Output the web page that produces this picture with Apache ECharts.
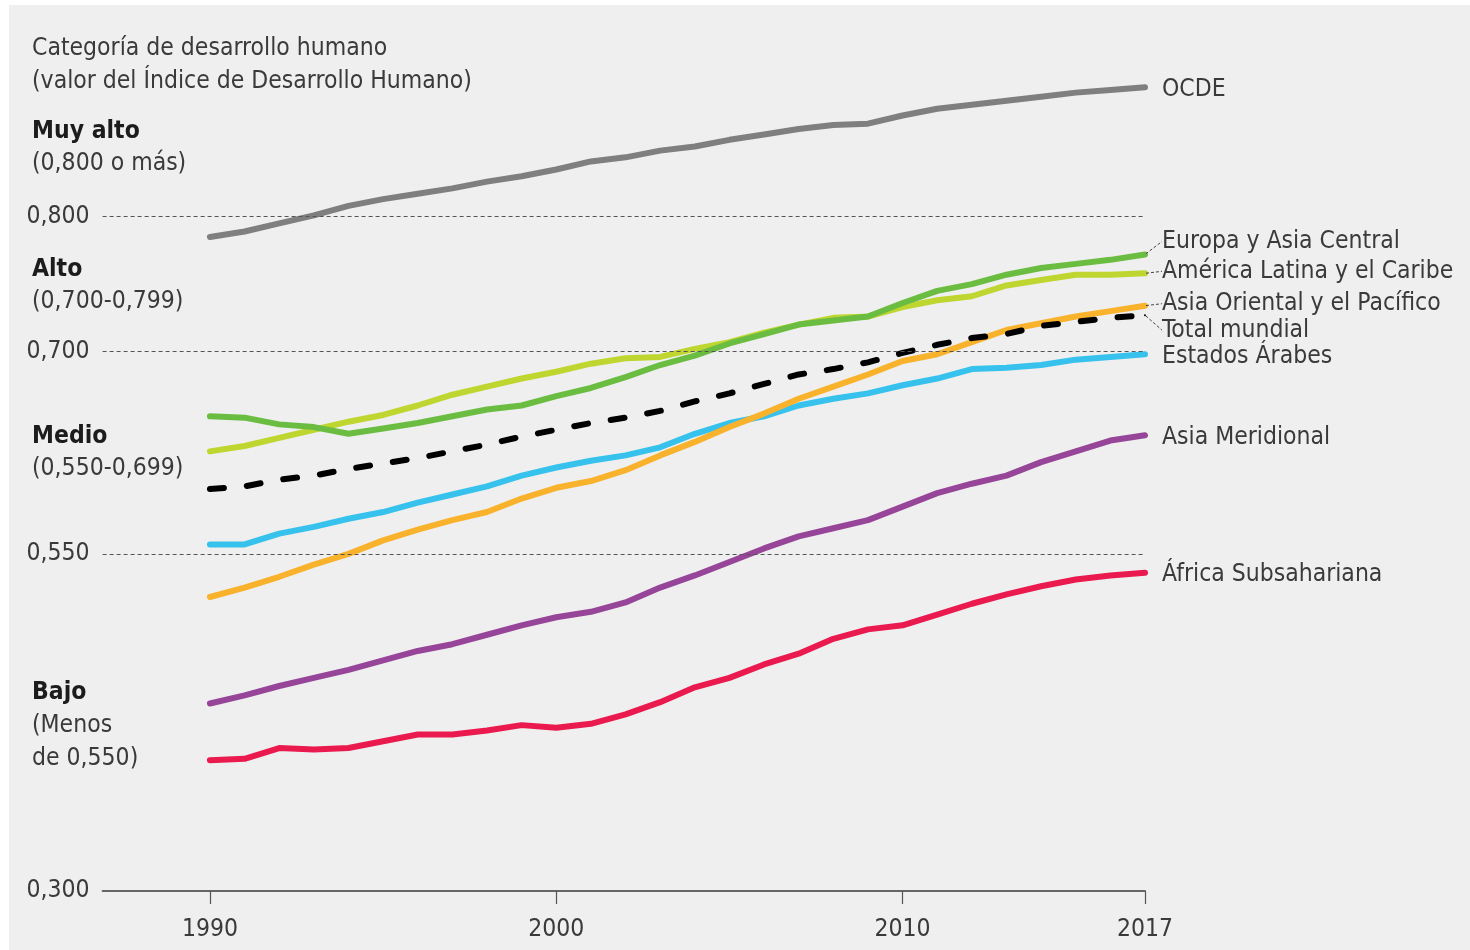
<!DOCTYPE html>
<html><head><meta charset="utf-8">
<script src="https://cdn.jsdelivr.net/npm/echarts@6/dist/echarts.min.js"></script>
<style>
html,body{margin:0;padding:0;background:#fff;}
#bg{position:absolute;left:9px;top:5px;width:1461px;height:945px;background:#efefef;}
#chart{position:absolute;left:0;top:0;width:1470px;height:950px;}
</style></head><body>
<div id="bg"></div><div id="chart"></div>
<script>
const years = [1990,1991,1992,1993,1994,1995,1996,1997,1998,1999,2000,2001,2002,2003,2004,2005,2006,2007,2008,2009,2010,2011,2012,2013,2014,2015,2016,2017];
const xTickYears = [1990, 2000, 2010, 2017];
const yTickValues = [0.300, 0.550, 0.700, 0.800];
const gridValues = [0.550, 0.700, 0.800];

const ocde         = [0.785,0.789,0.795,0.801,0.808,0.813,0.817,0.821,0.826,0.830,0.835,0.841,0.844,0.849,0.852,0.857,0.861,0.865,0.868,0.869,0.875,0.880,0.883,0.886,0.889,0.892,0.894,0.896];
const europa       = [0.652,0.651,0.646,0.644,0.639,0.643,0.647,0.652,0.657,0.660,0.667,0.673,0.681,0.690,0.697,0.706,0.713,0.720,0.723,0.726,0.736,0.745,0.750,0.757,0.762,0.765,0.768,0.772];
const america      = [0.626,0.630,0.636,0.642,0.648,0.653,0.660,0.668,0.674,0.680,0.685,0.691,0.695,0.696,0.702,0.707,0.714,0.720,0.725,0.726,0.733,0.738,0.741,0.749,0.753,0.757,0.757,0.758];
const asiaOriental = [0.518,0.525,0.533,0.542,0.550,0.560,0.568,0.575,0.581,0.591,0.599,0.604,0.612,0.623,0.633,0.644,0.654,0.665,0.674,0.683,0.693,0.698,0.707,0.716,0.721,0.726,0.730,0.734];
const mundial      = [0.598,0.600,0.605,0.608,0.613,0.617,0.621,0.626,0.631,0.637,0.642,0.647,0.651,0.656,0.663,0.669,0.676,0.683,0.687,0.692,0.699,0.705,0.710,0.713,0.719,0.722,0.725,0.727];
const arabes       = [0.557,0.557,0.565,0.570,0.576,0.581,0.588,0.594,0.600,0.608,0.614,0.619,0.623,0.629,0.639,0.647,0.652,0.660,0.665,0.669,0.675,0.680,0.687,0.688,0.690,0.694,0.696,0.698];
const meridional   = [0.439,0.445,0.452,0.458,0.464,0.471,0.478,0.483,0.490,0.497,0.503,0.507,0.514,0.525,0.534,0.544,0.554,0.563,0.569,0.575,0.585,0.595,0.602,0.608,0.618,0.626,0.634,0.638];
const subsahariana = [0.397,0.398,0.406,0.405,0.406,0.411,0.416,0.416,0.419,0.423,0.421,0.424,0.431,0.440,0.451,0.458,0.468,0.476,0.487,0.494,0.497,0.505,0.513,0.520,0.526,0.531,0.534,0.536];

const FONT = '"DejaVu Sans Condensed", "DejaVu Sans", sans-serif';
const FS = 24.5;
const TXT = '#3a3a3a';
const BOLD = '#1c1c1c';

function fmt(v) { return v.toFixed(3).replace('.', ','); }

function buildSeries(name, values, color, extra) {
  const data = values.map((v, i) => [years[i], v]);
  const last = data.length - 1;
  data[last] = { value: data[last], symbol: 'circle', symbolSize: 2, label: { show: true } };
  return Object.assign({
    name: name, type: 'line', data: data,
    symbol: 'none', showSymbol: true, z: 3,
    lineStyle: { color: color, width: 6, cap: 'round', join: 'round' },
    itemStyle: { color: color },
    label: { show: false, position: 'right', distance: 16, formatter: () => name,
             fontFamily: FONT, fontSize: FS, color: TXT },
    labelLayout: { dy: 2 },
    emphasis: { disabled: true },
    silent: true
  }, extra || {});
}

const leader = { show: true, lineStyle: { color: '#444', width: 1, type: [3, 2] } };

const notes = [
  { t: 'Categoría de desarrollo humano', y: 49, b: false },
  { t: '(valor del Índice de Desarrollo Humano)', y: 82, b: false },
  { t: 'Muy alto', y: 132, b: true },
  { t: '(0,800 o más)', y: 164, b: false },
  { t: 'Alto', y: 270, b: true },
  { t: '(0,700-0,799)', y: 302, b: false },
  { t: 'Medio', y: 437, b: true },
  { t: '(0,550-0,699)', y: 469, b: false },
  { t: 'Bajo', y: 693, b: true },
  { t: '(Menos', y: 726, b: false },
  { t: 'de 0,550)', y: 759, b: false }
];

const chart = echarts.init(document.getElementById('chart'), null, { renderer: 'canvas' });
chart.setOption({
  animation: false,
  backgroundColor: 'transparent',
  grid: { left: 102.6, right: 325, top: 14.4, bottom: 59, containLabel: false },
  xAxis: {
    type: 'value', min: 1986.9, max: 2017,
    splitLine: { show: false },
    axisLine: { show: true, lineStyle: { color: '#666', width: 2 } },
    axisTick: { show: true, customValues: xTickYears, length: 13, lineStyle: { color: '#555', width: 1.2 } },
    axisLabel: { customValues: xTickYears, margin: 26, fontFamily: FONT, fontSize: FS, color: TXT,
                 formatter: v => String(Math.round(v)) }
  },
  yAxis: {
    type: 'value', min: 0.3, max: 0.95, interval: 0.05,
    splitLine: { show: false },
    axisLine: { show: false }, axisTick: { show: false },
    axisLabel: {
      margin: 13, fontFamily: FONT, fontSize: FS, color: TXT,
      formatter: function (v) {
        const k = Math.round(v * 1000);
        return yTickValues.some(t => Math.round(t * 1000) === k) ? fmt(v) : '';
      }
    }
  },
  graphic: notes.map(n => ({
    type: 'text', x: 32, y: n.y, silent: true,
    style: { text: n.t, fill: n.b ? BOLD : TXT, align: 'left', verticalAlign: 'middle',
             font: (n.b ? 'bold ' : '') + FS + 'px ' + FONT }
  })),
  series: [
    { type: 'line', data: [], z: 1, silent: true,
      markLine: { silent: true, symbol: 'none', label: { show: false },
                  lineStyle: { color: '#555', width: 1.2, type: [4, 3] },
                  data: gridValues.map(v => ({ yAxis: v })) } },
    buildSeries('OCDE', ocde, '#7f7f7f'),
    buildSeries('África Subsahariana', subsahariana, '#ea1a4f'),
    buildSeries('Asia Meridional', meridional, '#964599'),
    buildSeries('Estados Árabes', arabes, '#36c2ec'),
    buildSeries('Asia Oriental y el Pacífico', asiaOriental, '#f8b22c', { labelLayout: { dy: -2 }, labelLine: leader }),
    buildSeries('América Latina y el Caribe', america, '#bfd630', { labelLayout: { dy: -2 }, labelLine: leader }),
    buildSeries('Europa y Asia Central', europa, '#6bbd41', { labelLayout: { dy: -13 }, labelLine: leader }),
    buildSeries('Total mundial', mundial, '#000000', {
      lineStyle: { color: '#000', width: 6, cap: 'round', join: 'round', type: [14, 23] },
      labelLayout: { dy: 15 }, labelLine: leader })
  ]
});
</script>
</body></html>
